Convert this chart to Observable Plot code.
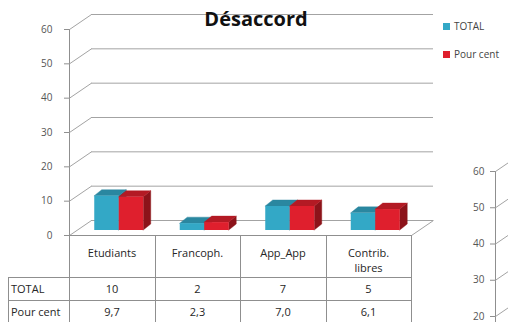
<!DOCTYPE html>
<html><head><meta charset="utf-8">
<script src="https://cdn.jsdelivr.net/npm/d3@7"></script>
<script src="https://cdn.jsdelivr.net/npm/@observablehq/plot@0.6"></script>
<style>
html,body{margin:0;padding:0;background:#fff;overflow:hidden}
#wrap{position:relative;width:508px;height:322px;overflow:hidden;font-family:"Open Sans",sans-serif;background:#fff}
#wrap svg{position:absolute;left:0;top:0}
#wrap svg g[aria-label^="y-axis"] text{fill:#555}
.ln{position:absolute;background:#8f8f8f}
.tx{position:absolute;font-size:11px;color:#262626;white-space:pre-line;line-height:15px}
.title{position:absolute;font-weight:bold;font-size:20px;line-height:20px;color:#111;text-align:center}
.leg{position:absolute;font-size:10px;color:#444;line-height:10px}
.sw{position:absolute;width:7px;height:7px}
</style></head><body><div id="wrap"></div>
<script>
// ---- data ----
const title = "Désaccord";
const categories = ["Etudiants", "Francoph.", "App_App", "Contrib.\nlibres"];
const seriesNames = ["TOTAL", "Pour cent"];
const totalValues = [10, 2, 7, 5];
const pourCentValues = [9.7, 2.3, 7.0, 6.1];
const yTicks = [0, 10, 20, 30, 40, 50, 60];
const rightAxisTicks = [20, 30, 40, 50, 60];

// ---- styles / layout ----
const seriesValues = [totalValues, pourCentValues];
const faceColors = [
  {front: "#33a8c6", top: "#2a87a0", side: "#1f6b7e"},
  {front: "#df1f2d", top: "#b31a24", side: "#8c131a"}
];
const W = 508, H = 322;
const X0 = 69, X1 = 411, Y0 = 235, YTOP = 29;
const N = categories.length;
const pxPerCat = (X1 - X0) / N;
const pxPerVal = (Y0 - YTOP) / 60;
const wall = {x: 22 / pxPerCat, y: 15 / pxPerVal};
const front = {x: 7 / pxPerCat, y: 5 / pxPerVal};
const depth = {x: 7.5 / pxPerCat, y: 6 / pxPerVal};
const bw = 24.5 / pxPerCat;
const gridColor = "#a3a3a3";

const bars = categories.flatMap((c, i) => seriesNames.map((s, k) => {
  const v = seriesValues[k][i];
  const xa = i + 0.5 + (k - 1) * bw + front.x;
  return {key: i + "-" + k, k, xa, xb: xa + bw, y0: front.y, y1: v + front.y};
}));
const tops = bars.flatMap(b => [
  {key: b.key, k: b.k, y: b.y1, x1: b.xa, x2: b.xb},
  {key: b.key, k: b.k, y: b.y1 + depth.y, x1: b.xa + depth.x, x2: b.xb + depth.x}
]);
const sides = bars.flatMap(b => [
  {key: b.key, k: b.k, x: b.xb, y1: b.y0, y2: b.y1},
  {key: b.key, k: b.k, x: b.xb + depth.x, y1: b.y0 + depth.y, y2: b.y1 + depth.y}
]);

const barMarks = [0, 1].flatMap(k => [
  Plot.areaY(sides.filter(d => d.k === k), {x: "x", y1: "y1", y2: "y2", z: "key", fill: faceColors[k].side, stroke: faceColors[k].side, strokeWidth: 0.4}),
  Plot.areaX(tops.filter(d => d.k === k), {y: "y", x1: "x1", x2: "x2", z: "key", fill: faceColors[k].top, stroke: faceColors[k].top, strokeWidth: 0.4}),
  Plot.rect(bars.filter(d => d.k === k), {x1: "xa", x2: "xb", y1: "y0", y2: "y1", fill: faceColors[k].front})
]);

const main = Plot.plot({
  width: W, height: H,
  marginLeft: X0, marginRight: W - X1, marginTop: YTOP, marginBottom: H - Y0,
  style: {background: "transparent", color: "#8f8f8f", fontFamily: "Open Sans", fontSize: "10px"},
  x: {domain: [0, N], axis: null, label: null},
  y: {domain: [0, 60], ticks: yTicks, tickSize: 5, tickPadding: 12, line: true, label: null, tickFormat: d => String(d)},
  marks: [
    Plot.ruleY(yTicks, {y: d => d + wall.y, x1: () => wall.x, x2: () => N + wall.x, stroke: gridColor}),
    Plot.link(yTicks, {x1: () => 0, y1: d => d, x2: () => wall.x, y2: d => d + wall.y, stroke: gridColor}),
    Plot.link([0], {x1: () => N, y1: d => d, x2: () => N + wall.x, y2: d => d + wall.y, stroke: gridColor}),
    ...barMarks
  ]
});

const pxPerValR = (316 - 171) / 40;
const rightPlot = Plot.plot({
  width: W, height: H,
  marginLeft: 495, marginRight: 0, marginTop: 171, marginBottom: H - 316,
  style: {background: "transparent", color: "#8f8f8f", fontFamily: "Open Sans", fontSize: "10px"},
  x: {domain: [0, 1], range: [495, 517], axis: null, label: null},
  y: {domain: [20, 60], ticks: rightAxisTicks, tickSize: 5, tickPadding: 6, label: null, tickFormat: d => String(d)},
  marks: [
    Plot.ruleX([0], {x: d => d, y1: () => 60, y2: () => 10, stroke: "#8f8f8f"}),
    Plot.link(rightAxisTicks, {x1: () => 0, y1: d => d, x2: () => 1, y2: d => d + 15 / pxPerValR, stroke: gridColor})
  ]
});

const wrap = document.getElementById("wrap");
wrap.appendChild(main);
wrap.appendChild(rightPlot);

const xs = main.scale("x");
function add(cls, css, text) {
  const d = document.createElement("div");
  d.className = cls;
  Object.assign(d.style, css);
  if (text != null) d.textContent = text;
  wrap.appendChild(d);
  return d;
}
const px = v => v + "px";
const colX = i => Math.round(xs.apply(i));
const ROW1 = 277, ROW2 = 300, TL = 8;

// table lines
add("ln", {left: px(colX(0)), top: px(Y0), width: px(colX(N) - colX(0) + 1), height: "1px"});
add("ln", {left: px(TL), top: px(ROW1), width: px(colX(N) - TL + 1), height: "1px"});
add("ln", {left: px(TL), top: px(ROW2), width: px(colX(N) - TL + 1), height: "1px"});
add("ln", {left: px(TL), top: px(ROW1), width: "1px", height: px(H - ROW1)});
for (let i = 0; i <= N; i++) add("ln", {left: px(colX(i)), top: px(Y0), width: "1px", height: px(H - Y0)});

// table texts
const fmt = v => v.toFixed(1).replace(".", ",");
categories.forEach((c, i) => {
  const l = colX(i), w = colX(i + 1) - l;
  add("tx", {left: px(l), width: px(w), top: px(Y0 + 10), textAlign: "center"}, c);
  add("tx", {left: px(l), width: px(w), top: px(ROW1 + 1), height: "22px", lineHeight: "22px", textAlign: "center"}, String(totalValues[i]));
  add("tx", {left: px(l), width: px(w), top: px(ROW2 + 1), height: "22px", lineHeight: "22px", textAlign: "center"}, fmt(pourCentValues[i]));
});
add("tx", {left: px(TL + 3), top: px(ROW1 + 1), lineHeight: "22px"}, seriesNames[0]);
add("tx", {left: px(TL + 3), top: px(ROW2 + 1), lineHeight: "22px"}, seriesNames[1]);

// title
add("title", {left: "156px", width: "200px", top: "9px"}, title);

// legend
seriesNames.forEach((s, k) => {
  const cy = 26 + k * 28;
  add("sw", {left: "443px", top: px(cy - 3), background: faceColors[k].front});
  add("leg", {left: "454px", top: px(cy - 5)}, s);
});
</script></body></html>
